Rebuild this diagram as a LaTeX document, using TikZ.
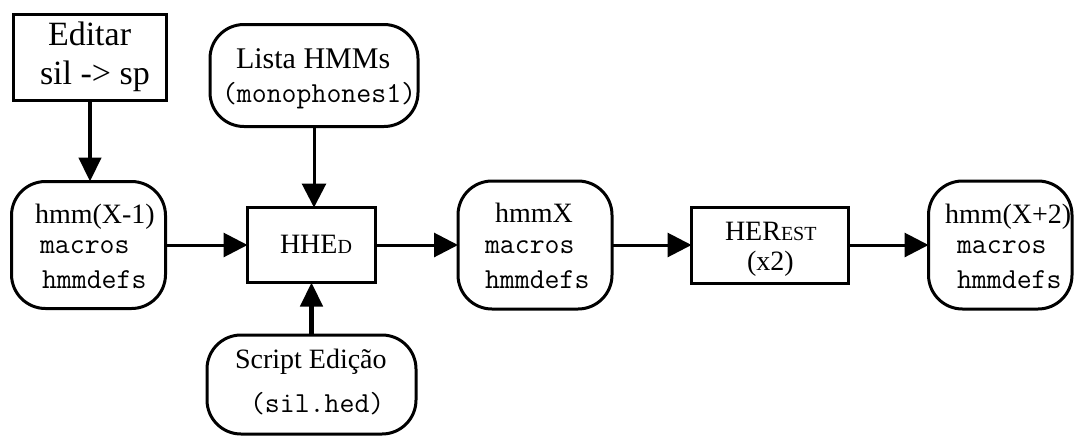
\documentclass[tikz,border=0pt]{standalone}
\usepackage{fontspec}
\setmainfont{Liberation Serif}
\usetikzlibrary{arrows.meta}

% small capitals drawn as reduced capitals
\newcommand\smallcapsfake[1]{{\fontsize{20}{20}\selectfont #1}}

\tikzset{
  box/.style={draw, line width=3pt, inner sep=0pt, outer sep=0pt},
  sqbox/.style={box},
  rbox/.style={box, rounded corners=34pt},
  lbl/.style={anchor=base west, inner sep=0pt, outer sep=0pt},
  serif/.style={lbl, font=\fontsize{28}{34}\selectfont},
  midserif/.style={lbl, font=\fontsize{30}{36}\selectfont},
  bigserif/.style={lbl, font=\fontsize{34}{40}\selectfont},
  mono/.style={lbl, font=\ttfamily\fontsize{29}{34}\selectfont},
  arr/.style={line width=3pt, -{Triangle[length=24pt,width=24pt]}},
  heavyarr/.style={line width=4.5pt, -{Triangle[length=24pt,width=22pt]}},
}

\begin{document}
\begin{tikzpicture}[x=1pt,y=-1pt]
  \useasboundingbox (0,0) rectangle (1075,437);

  % boxes
  \node[sqbox, minimum width=153pt, minimum height=86pt]  (edit)   at (90,57.5)   {};
  \node[rbox,  minimum width=154pt, minimum height=127pt] (prev)   at (88.5,245)  {};
  \node[rbox,  minimum width=208pt, minimum height=102pt] (lista)  at (314,75.5)  {};
  \node[sqbox, minimum width=128pt, minimum height=75pt]  (hhed)   at (311.5,245) {};
  \node[rbox,  minimum width=209pt, minimum height=99pt]  (script) at (311.5,384.5) {};
  \node[rbox,  minimum width=154pt, minimum height=128pt] (cur)    at (535,245)   {};
  \node[sqbox, minimum width=157pt, minimum height=76pt]  (herest) at (770,245)   {};
  \node[rbox,  minimum width=143.5pt, minimum height=128pt] (next) at (1000.25,245) {};

  % labels
  \node[bigserif] (editA) at (48,45) {Editar};
  \node[bigserif] (editB) at (40,84) {sil -> sp};

  \node[serif] (prevA) at (35,223) {hmm(X-1)};
  \node[mono]  (prevB) at (40,253) {macros};
  \node[mono]  (prevC) at (42,288) {hmmdefs};

  \node[midserif] (listaA) at (236,68) {Lista HMMs};
  \node[mono]     (listaB) at (222,102) {(monophones1)};

  \node[serif] (hhedA) at (280,253) {HHE\smallcapsfake{D}};

  \node[serif] (scriptA) at (235,368) {Script Edição};
  \node[mono]  (scriptB) at (250,412) {(sil.hed)};

  \node[serif] (curA) at (495,222) {hmmX};
  \node[mono]  (curB) at (485,253) {macros};
  \node[mono]  (curC) at (485,288) {hmmdefs};

  \node[serif] (herestA) at (725,240) {HER\smallcapsfake{EST}};
  \node[serif] (herestB) at (747,270) {(x2)};

  \node[serif] (nextA) at (945,223) {hmm(X+2)};
  \node[mono]  (nextB) at (957,253) {macros};
  \node[mono]  (nextC) at (957,288) {hmmdefs};

  % connectors
  \draw[heavyarr] (edit.south) -- (edit.south |- prev.north);
  \draw[arr] (lista.south) -- (lista.south |- hhed.north);
  \draw[heavyarr] (script.north) -- (script.north |- hhed.south);
  \draw[arr] (prev.east) -- (hhed.west);
  \draw[arr] (hhed.east) -- (cur.west);
  \draw[arr] (cur.east) -- (herest.west);
  \draw[arr] (herest.east) -- (next.west);
\end{tikzpicture}
\end{document}
